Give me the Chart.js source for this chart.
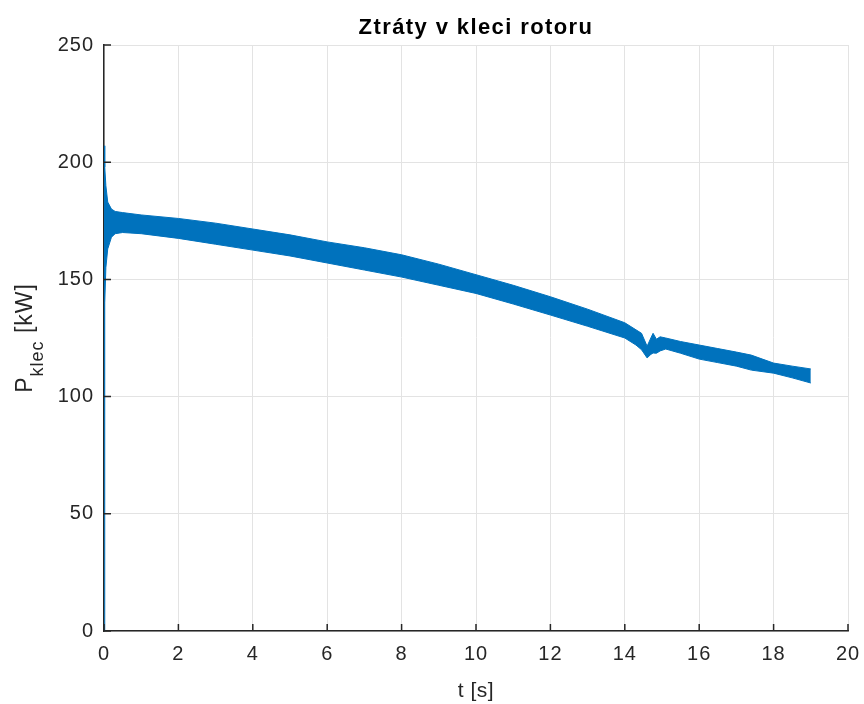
<!DOCTYPE html>
<html>
<head>
<meta charset="utf-8">
<script src="https://cdn.jsdelivr.net/npm/chart.js@4"></script>
<style>
  html, body { margin: 0; padding: 0; background: #fff; }
  #wrap { width: 864px; height: 704px; }
</style>
</head>
<body>
<div id="wrap"><canvas id="lossChart" width="864" height="704"></canvas></div>
<script>
const timeSec = [0, 0.02, 0.05, 0.1, 0.2, 0.3, 0.5, 1, 2, 3, 4, 5, 6, 7, 8, 9, 10, 11, 12, 13, 14,
  14.3, 14.45, 14.6, 14.7, 14.76, 14.85, 14.95, 15.1, 15.5, 16, 16.5, 17, 17.4, 18, 18.5, 19];
const pUpper = [207, 198, 190, 183, 180, 179, 178.5, 177.5, 176, 174, 171.5, 169, 166, 163.5, 160.5, 156.5, 152, 147.5, 142.6, 137.3, 131.5,
  128.5, 127, 121.5, 125, 127, 124.5, 125.5, 125, 123.5, 122, 120.5, 119, 117.7, 114.3, 113, 111.8];
const pLower = [0, 140, 155, 163, 168, 169.5, 170, 169.5, 167.5, 165, 162.5, 160, 157, 154, 151, 147.5, 144, 139.5, 134.8, 130, 125,
  122, 120, 116.5, 118, 118.6, 118.5, 119.5, 120.3, 118.5, 116, 114.5, 113, 111.3, 110, 108, 105.8];
const xTicks = [0, 2, 4, 6, 8, 10, 12, 14, 16, 18, 20];
const yTicks = [0, 50, 100, 150, 200, 250];

const FONT = "'Liberation Sans', Arial, Helvetica, sans-serif";
const INK = '#262626';
const BLUE = '#0072BD';

const toPoints = (ys) => timeSec.map((t, i) => ({ x: t, y: ys[i] }));

// the reference glyphs run a bit wider than Liberation Sans, so space them out
const spacing = {
  id: 'spacing',
  beforeDraw(chart) { chart.ctx.letterSpacing = '1px'; }
};

// inside tick marks + titles, MATLAB style
const matlabDecor = {
  id: 'matlabDecor',
  afterDraw(chart) {
    const { ctx, chartArea: a, scales: { x, y } } = chart;
    ctx.save();
    ctx.strokeStyle = INK;
    ctx.lineWidth = 1.5;
    ctx.beginPath();
    xTicks.forEach(v => { const px = x.getPixelForValue(v); ctx.moveTo(px, a.bottom); ctx.lineTo(px, a.bottom - 7); });
    yTicks.forEach(v => { const py = y.getPixelForValue(v); ctx.moveTo(a.left, py); ctx.lineTo(a.left + 7, py); });
    ctx.stroke();

    ctx.fillStyle = '#000';
    ctx.textAlign = 'center';
    ctx.textBaseline = 'alphabetic';
    ctx.letterSpacing = '1.4px';
    ctx.font = `bold 22px ${FONT}`;
    ctx.fillText('Ztráty v kleci rotoru', (a.left + a.right) / 2, 34);

    ctx.fillStyle = INK;
    ctx.letterSpacing = '0.5px';
    ctx.font = `21px ${FONT}`;
    ctx.fillText('t [s]', (a.left + a.right) / 2, 697);

    // y title with subscript, rotated
    ctx.letterSpacing = '1px';
    ctx.translate(32, (a.top + a.bottom) / 2);
    ctx.rotate(-Math.PI / 2);
    ctx.textAlign = 'left';
    const big = `23px ${FONT}`, small = `18px ${FONT}`;
    ctx.font = big; const wP = ctx.measureText('P').width;
    ctx.font = small; const wK = ctx.measureText('klec').width;
    ctx.font = big; const wU = ctx.measureText(' [kW]').width;
    let cx = -(wP + wK + wU) / 2;
    ctx.font = big; ctx.fillText('P', cx, 0); cx += wP;
    ctx.font = small; ctx.fillText('klec', cx, 11); cx += wK;
    ctx.font = big; ctx.fillText(' [kW]', cx, 0);
    ctx.restore();
  }
};

new Chart(document.getElementById('lossChart'), {
  type: 'line',
  data: {
    datasets: [
      { data: toPoints(pUpper), borderColor: BLUE, backgroundColor: BLUE, borderWidth: 1, pointRadius: 0, fill: '+1', tension: 0 },
      { data: toPoints(pLower), borderColor: BLUE, backgroundColor: BLUE, borderWidth: 1, pointRadius: 0, fill: false, tension: 0 }
    ]
  },
  options: {
    responsive: false,
    animation: false,
    layout: { padding: { left: 0, right: 16, top: 45, bottom: 0 } },
    plugins: { legend: { display: false }, tooltip: { enabled: false }, title: { display: false } },
    scales: {
      x: {
        type: 'linear', min: 0, max: 20,
        afterFit: s => { s.height = 73; s.paddingLeft = 0; s.paddingRight = 0; },
        afterBuildTicks: s => { s.ticks = xTicks.map(v => ({ value: v })); },
        grid: { color: '#e3e3e3', drawTicks: false },
        border: { color: INK, width: 1.5 },
        ticks: { color: INK, font: { family: FONT, size: 20 }, padding: 11, maxRotation: 0 }
      },
      y: {
        min: 0, max: 250,
        afterFit: s => { s.width = 104; s.paddingTop = 0; s.paddingBottom = 0; },
        afterBuildTicks: s => { s.ticks = yTicks.map(v => ({ value: v })); },
        grid: { color: '#e3e3e3', drawTicks: false },
        border: { color: INK, width: 1.5 },
        ticks: { color: INK, font: { family: FONT, size: 20 }, padding: 10 }
      }
    }
  },
  plugins: [spacing, matlabDecor]
});
</script>
</body>
</html>
